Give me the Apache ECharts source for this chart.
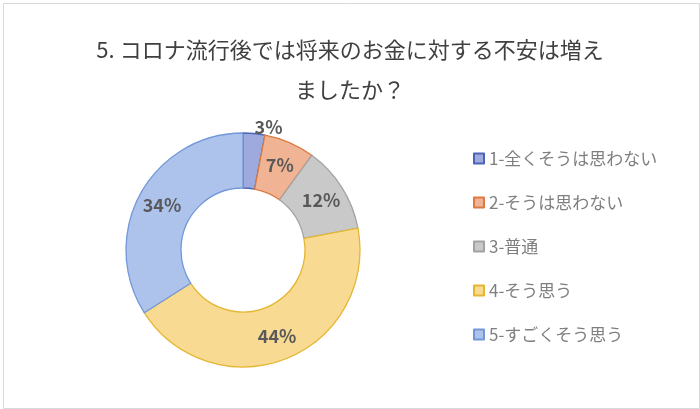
<!DOCTYPE html>
<html><head><meta charset="utf-8">
<script src="https://cdn.jsdelivr.net/npm/echarts@6/dist/echarts.min.js"></script>
<style>html,body{margin:0;padding:0;background:#fff}#plot{width:700px;height:409px}</style>
</head><body><div id="plot"></div>
<script>
const categories = ['1-全くそうは思わない', '2-そうは思わない', '3-普通', '4-そう思う', '5-すごくそう思う'];
const values = [3, 7, 12, 44, 34];
const fills = ['#9eaade', '#f0b394', '#c9c9c9', '#f9da92', '#adc3ec'];
const borders = ['#4a64b8', '#dc7a40', '#a3a3a3', '#e4b733', '#7398d8'];

const chart = echarts.init(document.getElementById('plot'));
const font = '"Noto Sans CJK JP", "Noto Sans", sans-serif';

chart.setOption({
    animation: false,
    graphic: [{
        type: 'rect', left: 1, top: 1,
        shape: { width: 696, height: 405 },
        style: { fill: 'none', stroke: '#d9d9d9', lineWidth: 1 }
    }],
    title: {
        text: '5. コロナ流行後では将来のお金に対する不安は増え\nましたか？',
        left: 'center', top: 25,
        textStyle: { fontFamily: font, fontSize: 22, fontWeight: 'normal', color: '#404040', lineHeight: 40 }
    },
    legend: {
        orient: 'vertical', left: 468, top: 145,
        itemWidth: 10, itemHeight: 10, itemGap: 27,
        icon: 'rect',
        textStyle: { fontFamily: font, fontSize: 17, color: '#7f7f7f' },
        data: categories
    },
    series: [{
        type: 'pie',
        center: [243, 250],
        radius: [62, 117],
        startAngle: 90,
        clockwise: true,
        label: {
            position: 'inside',
            formatter: p => p.value + '%',
            fontFamily: font, fontSize: 18, fontWeight: 'bold', color: '#595959'
        },
        labelLine: { show: false },
        data: categories.map((c, i) => ({
            name: c, value: values[i],
            itemStyle: { color: fills[i], borderColor: borders[i], borderWidth: 1.3 },
            label: i === 0 ? { position: 'outside', distanceToLabelLine: 0 } : undefined,
            labelLine: i === 0 ? { show: false, length: 6, length2: 0 } : undefined
        }))
    }]
});
</script></body></html>
